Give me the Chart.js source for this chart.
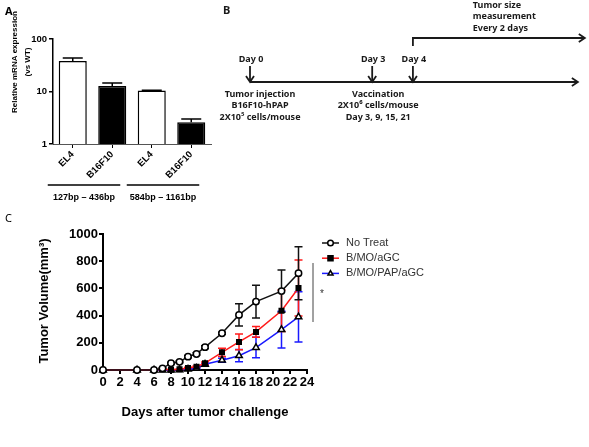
<!DOCTYPE html>
<html><head><meta charset="utf-8">
<script src="https://cdn.jsdelivr.net/npm/chart.js@4"></script>
<style>
html,body{margin:0;padding:0;background:#fff;}
#wrap{position:relative;width:589px;height:447px;overflow:hidden;background:#fff;}
canvas{position:absolute;}
</style></head><body>
<div id="wrap">
<canvas id="cA" width="215" height="210" style="left:0;top:0"></canvas>
<canvas id="cB" width="389" height="140" style="left:200px;top:0"></canvas>
<canvas id="cC" width="589" height="237" style="left:0;top:210px"></canvas>
</div>
<script>
// ---------- Panel A data ----------
const aCategories = ["EL4", "B16F10", "EL4", "B16F10"];
const aValues = [38, 12.7, 10.4, 2.6];
const aErrors = [5.5, 1.8, 0.2, 0.4];
const aGroupLabels = ["127bp \u2013 436bp", "584bp \u2013 1161bp"];
const aGroupMembers = [[0, 1], [2, 3]];
const aTickValues = [1, 10, 100];
const aAxisTitle = ["Relative mRNA expression", "(vs WT)"];

// ---------- Panel B data ----------
const bEventDays = [0, 3, 4];
const bEventLabels = ["Day 0", "Day 3", "Day 4"];
const bInjectionNote = ["Tumor injection", "B16F10-hPAP", "2X10\u2075 cells/mouse"];
const bVaccineNote = ["Vaccination", "2X10\u2076 cells/mouse", "Day 3, 9, 15, 21"];
const bMeasureNote = ["Tumor size", "measurement", "Every 2 days"];

// ---------- Panel C data ----------
const cDays = [0, 4, 6, 7, 8, 9, 10, 11, 12, 14, 16, 18, 21, 23];
const cSeriesNames = ["No Treat", "B/MO/aGC", "B/MO/PAP/aGC"];
const cNoTreat = [0, 0, 0, 12, 50, 60, 98, 118, 168, 270, 405, 503, 580, 712];
const cNoTreatErr = [0, 0, 0, 4, 6, 6, 8, 8, 10, 8, 82, 120, 155, 195];
const cBmoAgc = [0, 0, 0, 5, 2, 5, 15, 24, 50, 130, 206, 280, 436, 603];
const cBmoAgcErr = [0, 0, 0, 2, 2, 3, 5, 5, 8, 30, 58, 40, 152, 206];
const cBmoPapAgc = [0, 0, 0, 0, 0, 2, 6, 12, 42, 72, 105, 165, 297, 390];
const cBmoPapAgcErr = [0, 0, 0, 0, 0, 0, 3, 4, 5, 15, 45, 75, 135, 185];
const cXTickStep = 2;
const cYTickStep = 200;

// ---------- Panel A ----------
const fontA = {family: "'Liberation Sans', Arial, sans-serif", weight: 'bold', size: 9.5};
const pluginA = {
  id: 'panelA',
  afterDatasetsDraw(chart) {
    const ctx = chart.ctx, xs = chart.scales.x, ys = chart.scales.y;
    const meta = chart.getDatasetMeta(0);
    ctx.save();
    ctx.strokeStyle = '#000'; ctx.lineWidth = 1.5;
    meta.data.forEach((bar, i) => {
      const yt = ys.getPixelForValue(aValues[i]);
      const ye = ys.getPixelForValue(aValues[i] + aErrors[i]);
      ctx.beginPath();
      ctx.moveTo(bar.x, yt); ctx.lineTo(bar.x, ye);
      ctx.moveTo(bar.x - 10, ye); ctx.lineTo(bar.x + 10, ye);
      ctx.stroke();
    });
    // group lines and labels
    ctx.fillStyle = '#000';
    ctx.font = "bold 9px 'Liberation Sans', Arial, sans-serif";
    ctx.textAlign = 'center'; ctx.textBaseline = 'middle';
    aGroupMembers.forEach((g, k) => {
      const x0 = xs.getPixelForValue(g[0]) - 25;
      const x1 = xs.getPixelForValue(g[g.length - 1]) + 8;
      ctx.lineWidth = 1.5;
      ctx.beginPath(); ctx.moveTo(x0, 185); ctx.lineTo(x1, 185); ctx.stroke();
      ctx.fillText(aGroupLabels[k], (x0 + x1) / 2, 198);
    });
    // axis title
    ctx.font = "bold 8px 'Liberation Sans', Arial, sans-serif";
    ctx.translate(0, 62);
    ctx.rotate(-Math.PI / 2);
    ctx.fillText(aAxisTitle[0], 0, 15);
    ctx.fillText(aAxisTitle[1], 0, 28);
    ctx.restore();
    ctx.save();
    ctx.fillStyle = '#000';
    ctx.font = "bold 11px 'Noto Sans', sans-serif";
    ctx.textBaseline = 'middle';
    ctx.fillText('A', 5, 12);
    ctx.restore();
  }
};
new Chart(document.getElementById('cA'), {
  type: 'bar',
  data: {
    labels: aCategories,
    datasets: [{
      data: aValues,
      backgroundColor: aCategories.map(c => c === 'EL4' ? '#fff' : '#000'),
      borderColor: '#000', borderWidth: 1.5,
      barPercentage: 0.71, categoryPercentage: 1
    }]
  },
  options: {
    responsive: false, animation: false,
    layout: {padding: {top: 39, right: 4, left: 0, bottom: 0}},
    plugins: {legend: {display: false}, tooltip: {enabled: false}},
    scales: {
      x: {
        grid: {drawOnChartArea: false, offset: false, tickLength: 4, color: '#000', lineWidth: 1},
        border: {display: true, color: '#555', width: 1},
        ticks: {minRotation: 45, maxRotation: 45, padding: 1, color: '#000', font: fontA, autoSkip: false},
        afterFit(s) { s.height = 66; }
      },
      y: {
        type: 'logarithmic', min: 1, max: 100,
        afterBuildTicks(s) { s.ticks = aTickValues.map(v => ({value: v})); },
        grid: {drawOnChartArea: false, tickLength: 4, color: '#000', lineWidth: 1.5},
        border: {color: '#000', width: 1.5},
        ticks: {padding: 2, color: '#000', font: fontA, callback: v => String(v)},
        afterFit(s) { s.width = 53; }
      }
    }
  },
  plugins: [pluginA]
});

// ---------- Panel B ----------
function chevronDown(ctx, x, y) {
  ctx.beginPath(); ctx.moveTo(x - 4, y - 6); ctx.lineTo(x, y); ctx.lineTo(x + 4, y - 6); ctx.stroke();
}
function chevronRight(ctx, x, y) {
  ctx.beginPath(); ctx.moveTo(x - 6, y - 4); ctx.lineTo(x, y); ctx.lineTo(x - 6, y + 4); ctx.stroke();
}
const timelineEndDay = 8.05, measureEndDay = 8.22, measureTextDay = 5.47;
const pluginB = {
  id: 'panelB',
  afterDraw(chart) {
    const ctx = chart.ctx, xs = chart.scales.x;
    const px = d => xs.getPixelForValue(d);
    ctx.save();
    ctx.strokeStyle = '#1a1a1a'; ctx.fillStyle = '#1a1a1a';
    ctx.lineWidth = 1.8; ctx.lineCap = 'butt'; ctx.lineJoin = 'miter';
    // main timeline
    const yLine = 82;
    ctx.beginPath(); ctx.moveTo(px(bEventDays[0]), yLine); ctx.lineTo(px(timelineEndDay), yLine); ctx.stroke();
    chevronRight(ctx, px(timelineEndDay), yLine);
    // event arrows
    ctx.font = "bold 9px 'Noto Sans', sans-serif";
    ctx.textAlign = 'center'; ctx.textBaseline = 'middle';
    bEventDays.forEach((d, i) => {
      const x = px(d);
      ctx.beginPath(); ctx.moveTo(x, 66); ctx.lineTo(x, yLine); ctx.stroke();
      chevronDown(ctx, x, yLine);
      ctx.fillText(bEventLabels[i], x + 1, 59);
    });
    // measurement line
    const xm = px(bEventDays[2]);
    ctx.beginPath(); ctx.moveTo(xm, 46); ctx.lineTo(xm, 38); ctx.lineTo(px(measureEndDay), 38); ctx.stroke();
    chevronRight(ctx, px(measureEndDay), 38);
    // notes
    const rows = [94, 105.5, 117];
    bInjectionNote.forEach((t, k) => ctx.fillText(t, px(bEventDays[0]) + 10, rows[k]));
    bVaccineNote.forEach((t, k) => ctx.fillText(t, px(bEventDays[1]) + 6, rows[k]));
    ctx.textAlign = 'left';
    [5, 16.5, 28].forEach((y, k) => ctx.fillText(bMeasureNote[k], px(measureTextDay), y));
    ctx.font = "bold 11px 'Noto Sans', sans-serif";
    ctx.fillText('B', 23, 11);
    ctx.restore();
  }
};
new Chart(document.getElementById('cB'), {
  type: 'scatter',
  data: {datasets: []},
  options: {
    responsive: false, animation: false,
    layout: {padding: 0},
    plugins: {legend: {display: false}, tooltip: {enabled: false}},
    scales: {
      x: {type: 'linear', min: -50 / 40.73, max: (389 - 50) / 40.73, display: false},
      y: {type: 'linear', min: 0, max: 1, display: false}
    }
  },
  plugins: [pluginB]
});

// ---------- Panel C ----------
const cValues = [cNoTreat, cBmoAgc, cBmoPapAgc];
const cErrors = [cNoTreatErr, cBmoAgcErr, cBmoPapAgcErr];
const cLineColors = ['#111', '#ff1a1a', '#1a1aff'];
const cPointStyles = ['circle', 'rect', 'triangle'];
const cPointFills = ['#fff', '#000', '#fff'];
const cPointRadius = [3.2, 3.2, 3.8];
const fontC = {family: "'Liberation Sans', Arial, sans-serif", weight: 'bold', size: 13};

function drawMarker(ctx, style, x, y, r, fill) {
  ctx.save();
  ctx.fillStyle = fill; ctx.strokeStyle = '#000'; ctx.lineWidth = 1.5;
  ctx.beginPath();
  if (style === 'circle') ctx.arc(x, y, r, 0, Math.PI * 2);
  else if (style === 'rect') { const s = r * 0.9; ctx.rect(x - s, y - s, 2 * s, 2 * s); }
  else { ctx.moveTo(x, y - r); ctx.lineTo(x + r * 0.9, y + r * 0.6); ctx.lineTo(x - r * 0.9, y + r * 0.6); ctx.closePath(); }
  ctx.fill(); ctx.stroke();
  ctx.restore();
}

const pluginC = {
  id: 'panelC',
  beforeDatasetsDraw(chart) {
    const ctx = chart.ctx, xs = chart.scales.x, ys = chart.scales.y;
    ctx.save();
    ctx.lineWidth = 1.5;
    for (let i = cValues.length - 1; i >= 0; i--) {
      ctx.strokeStyle = cLineColors[i];
      cDays.forEach((d, j) => {
        const e = cErrors[i][j];
        if (!e) return;
        const x = xs.getPixelForValue(d);
        const y0 = ys.getPixelForValue(cValues[i][j] - e), y1 = ys.getPixelForValue(cValues[i][j] + e);
        ctx.beginPath();
        ctx.moveTo(x, y0); ctx.lineTo(x, y1);
        ctx.moveTo(x - 4, y0); ctx.lineTo(x + 4, y0);
        ctx.moveTo(x - 4, y1); ctx.lineTo(x + 4, y1);
        ctx.stroke();
      });
    }
    ctx.restore();
  },
  afterDraw(chart) {
    const ctx = chart.ctx, ca = chart.chartArea;
    ctx.save();
    // legend
    ctx.font = "11px 'Liberation Sans', Arial, sans-serif";
    ctx.textBaseline = 'middle'; ctx.textAlign = 'left';
    cSeriesNames.forEach((n, i) => {
      const y = 33 + i * 15.2;
      ctx.strokeStyle = cLineColors[i]; ctx.lineWidth = 1.5;
      ctx.beginPath(); ctx.moveTo(322, y); ctx.lineTo(339, y); ctx.stroke();
      drawMarker(ctx, cPointStyles[i], 330.5, y, 2.8, cPointFills[i]);
      ctx.fillStyle = '#333';
      ctx.fillText(n, 346, y);
    });
    // significance bracket
    ctx.strokeStyle = '#444'; ctx.lineWidth = 1;
    ctx.beginPath(); ctx.moveTo(313, 53); ctx.lineTo(313, 112); ctx.stroke();
    ctx.fillStyle = '#333';
    ctx.font = "10px 'Liberation Sans', Arial, sans-serif";
    ctx.fillText('*', 320, 84);
    // axis titles
    ctx.fillStyle = '#000';
    ctx.font = "bold 13px 'Liberation Sans', Arial, sans-serif";
    ctx.textAlign = 'center';
    ctx.fillText('Days after tumor challenge', (ca.left + ca.right) / 2, 202);
    ctx.save();
    ctx.translate(44, 91);
    ctx.rotate(-Math.PI / 2);
    ctx.fillText('Tumor Volume(mm\u00B3)', 0, 0);
    ctx.restore();
    ctx.textAlign = 'left';
    ctx.font = "11px 'Noto Sans', sans-serif";
    ctx.fillText('C', 5, 9);
    ctx.restore();
  }
};

new Chart(document.getElementById('cC'), {
  type: 'line',
  data: {
    datasets: cSeriesNames.map((name, i) => ({
      label: name,
      data: cDays.map((d, j) => ({x: d, y: cValues[i][j]})),
      borderColor: cLineColors[i], borderWidth: 1.5,
      pointStyle: cPointStyles[i], pointRadius: cPointRadius[i],
      pointBackgroundColor: cPointFills[i], pointBorderColor: '#000', pointBorderWidth: 1.5,
      tension: 0, clip: false, fill: false
    }))
  },
  options: {
    responsive: false, animation: false,
    layout: {padding: {top: 24, right: 282, left: 0, bottom: 0}},
    plugins: {legend: {display: false}, tooltip: {enabled: false}},
    scales: {
      x: {
        type: 'linear', min: 0, max: 24,
        ticks: {stepSize: cXTickStep, autoSkip: false, maxRotation: 0, padding: 1, color: '#000', font: fontC, callback: v => String(v)},
        grid: {drawOnChartArea: false, tickLength: 4, color: '#000', lineWidth: 2},
        border: {color: '#000', width: 2},
        afterFit(s) { s.height = 77; }
      },
      y: {
        type: 'linear', min: 0, max: 1000,
        ticks: {stepSize: cYTickStep, padding: 1, color: '#000', font: fontC, callback: v => String(v)},
        grid: {drawOnChartArea: false, tickLength: 4, color: '#000', lineWidth: 2},
        border: {color: '#000', width: 2},
        afterFit(s) { s.width = 103; }
      }
    }
  },
  plugins: [pluginC]
});
</script>
</body></html>
